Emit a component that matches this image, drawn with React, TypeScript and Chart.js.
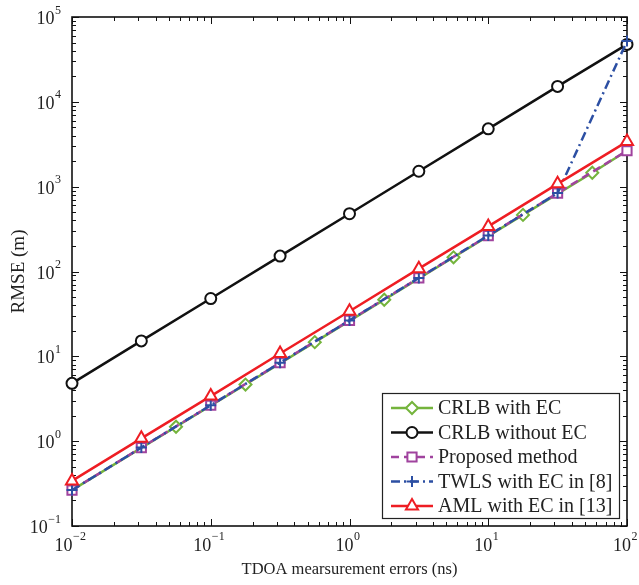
import React, { useEffect, useRef } from 'react';
import { Chart, registerables } from 'chart.js';

Chart.register(...registerables);

const FONT = '"Liberation Serif", "Times New Roman", "DejaVu Serif", serif';

// ---- data ----
const xMain = [0.01, 0.0316, 0.1, 0.316, 1, 3.16, 10, 31.6, 100];
const xCrlb = [0.01, 0.0562, 0.178, 0.562, 1.78, 5.62, 17.8, 56.2, 100];
const crlbWithEC = [0.265, 1.48, 4.65, 14.7, 46.5, 147, 465, 1460, 2650];
const crlbWithoutEC = [4.8, 15.2, 48, 152, 480, 1520, 4800, 15200, 47500];
const proposedMethod = [0.265, 0.84, 2.65, 8.4, 26.5, 84, 265, 840, 2650];
const twlsWithEC = [0.265, 0.84, 2.65, 8.4, 26.5, 84, 265, 840, 52000];
const amlWithEC = [0.34, 1.08, 3.4, 10.8, 34, 108, 340, 1080, 3400];
const crlbMarkerShown = [false, true, true, true, true, true, true, true, false];

const seriesLabels = [
  'CRLB with EC',
  'CRLB without EC',
  'Proposed method',
  'TWLS with EC in [8]',
  'AML with EC in [13]',
];
const xTickPowers = [-2, -1, 0, 1, 2];
const yTickPowers = [-1, 0, 1, 2, 3, 4, 5];
const xAxisTitle = 'TDOA mearsurement errors (ns)';
const yAxisTitle = 'RMSE (m)';

// ---- styles ----
type Style = { color: string; dash: number[]; marker: string; r: number; lw: number };
const styles: Style[] = [
  { color: '#74b43c', dash: [], marker: 'rectRot', r: 6, lw: 2.5 },
  { color: '#111111', dash: [], marker: 'circle', r: 5.5, lw: 2.5 },
  { color: '#a0439e', dash: [8, 5], marker: 'rect', r: 6.5, lw: 2.5 },
  { color: '#2c4fa3', dash: [9, 4, 2, 4], marker: 'cross', r: 5.5, lw: 2.5 },
  { color: '#ee1d23', dash: [], marker: 'triangle', r: 7, lw: 2.5 },
];

function supText(n: number) {
  return n < 0 ? '\u2212' + String(-n) : String(n);
}

function drawMarker(ctx: CanvasRenderingContext2D, s: Style, x: number, y: number) {
  const r = s.r;
  ctx.save();
  ctx.setLineDash([]);
  ctx.lineWidth = 2;
  ctx.strokeStyle = s.color;
  ctx.fillStyle = '#ffffff';
  ctx.beginPath();
  if (s.marker === 'circle') {
    ctx.arc(x, y, r, 0, Math.PI * 2);
  } else if (s.marker === 'rect') {
    const h = Math.SQRT1_2 * r;
    ctx.rect(x - h, y - h, 2 * h, 2 * h);
  } else if (s.marker === 'rectRot') {
    ctx.moveTo(x - r, y);
    ctx.lineTo(x, y - r);
    ctx.lineTo(x + r, y);
    ctx.lineTo(x, y + r);
    ctx.closePath();
  } else if (s.marker === 'triangle') {
    let a = 0;
    ctx.moveTo(x + Math.sin(a) * r, y - Math.cos(a) * r);
    a += (2 * Math.PI) / 3;
    ctx.lineTo(x + Math.sin(a) * r, y - Math.cos(a) * r);
    a += (2 * Math.PI) / 3;
    ctx.lineTo(x + Math.sin(a) * r, y - Math.cos(a) * r);
    ctx.closePath();
  }
  if (s.marker === 'cross') {
    ctx.moveTo(x - r, y);
    ctx.lineTo(x + r, y);
    ctx.moveTo(x, y - r);
    ctx.lineTo(x, y + r);
    ctx.stroke();
  } else {
    ctx.fill();
    ctx.stroke();
  }
  ctx.restore();
}

const axesPlugin = {
  id: 'matlabAxes',
  beforeDatasetsDraw(chart: any) {
    const { ctx, chartArea } = chart;
    const { left, right, top, bottom } = chartArea;
    const xs = chart.scales.x;
    const ys = chart.scales.y;
    ctx.save();
    ctx.strokeStyle = '#111';
    ctx.lineWidth = 1;
    // ticks
    ctx.beginPath();
    for (let d = xTickPowers[0]; d <= xTickPowers[xTickPowers.length - 1]; d++) {
      for (let k = 1; k <= 9; k++) {
        const v = k * Math.pow(10, d);
        if (v > Math.pow(10, xTickPowers[xTickPowers.length - 1]) * 1.0001) break;
        const px = Math.round(xs.getPixelForValue(v)) + 0.5;
        const len = k === 1 ? 7 : 4;
        ctx.moveTo(px, bottom);
        ctx.lineTo(px, bottom - len);
        ctx.moveTo(px, top);
        ctx.lineTo(px, top + len);
      }
    }
    for (let d = yTickPowers[0]; d <= yTickPowers[yTickPowers.length - 1]; d++) {
      for (let k = 1; k <= 9; k++) {
        const v = k * Math.pow(10, d);
        if (v > Math.pow(10, yTickPowers[yTickPowers.length - 1]) * 1.0001) break;
        const py = Math.round(ys.getPixelForValue(v)) + 0.5;
        const len = k === 1 ? 7 : 4;
        ctx.moveTo(left, py);
        ctx.lineTo(left + len, py);
        ctx.moveTo(right, py);
        ctx.lineTo(right - len, py);
      }
    }
    ctx.stroke();
    // frame
    ctx.lineWidth = 1.6;
    ctx.strokeRect(left, top, right - left, bottom - top);

    // tick labels
    ctx.fillStyle = '#222';
    ctx.textBaseline = 'alphabetic';
    ctx.textAlign = 'left';
    for (const p of xTickPowers) {
      const px = xs.getPixelForValue(Math.pow(10, p));
      ctx.font = `18px ${FONT}`;
      const w10 = ctx.measureText('10').width;
      ctx.font = `12px ${FONT}`;
      const e = supText(p);
      const we = ctx.measureText(e).width;
      const x0 = px - (w10 + we) / 2 - 2;
      ctx.font = `18px ${FONT}`;
      ctx.fillText('10', x0, bottom + 25);
      ctx.font = `12px ${FONT}`;
      ctx.fillText(e, x0 + w10 + 0.5, bottom + 14);
    }
    for (const p of yTickPowers) {
      const py = ys.getPixelForValue(Math.pow(10, p));
      ctx.font = `12px ${FONT}`;
      const e = supText(p);
      const we = ctx.measureText(e).width;
      ctx.font = `18px ${FONT}`;
      const w10 = ctx.measureText('10').width;
      const xr = left - 11;
      ctx.fillText('10', xr - we - w10 - 0.5, py + 7);
      ctx.font = `12px ${FONT}`;
      ctx.fillText(e, xr - we, py - 3.5);
    }
    ctx.restore();
  },
  afterDraw(chart: any) {
    const { ctx } = chart;
    // legend box
    const bx = 382, by = 393, bw = 237, bh = 125;
    ctx.save();
    ctx.fillStyle = '#ffffff';
    ctx.fillRect(bx, by, bw, bh);
    ctx.strokeStyle = '#222';
    ctx.lineWidth = 1.2;
    ctx.strokeRect(bx + 0.5, by + 0.5, bw, bh);
    const rowY0 = 408;
    const pitch = 24.5;
    seriesLabels.forEach((label, i) => {
      const s = styles[i];
      const y = rowY0 + i * pitch;
      ctx.save();
      ctx.strokeStyle = s.color;
      ctx.lineWidth = s.lw;
      ctx.setLineDash(s.dash);
      ctx.beginPath();
      ctx.moveTo(391, y);
      ctx.lineTo(433, y);
      ctx.stroke();
      ctx.restore();
      drawMarker(ctx, s, 412, y);
      ctx.fillStyle = '#222';
      ctx.font = `20px ${FONT}`;
      ctx.textBaseline = 'middle';
      ctx.textAlign = 'left';
      ctx.fillText(label, 438, y + 1);
    });
    ctx.restore();
  },
};

export default function App() {
  const ref = useRef<HTMLCanvasElement>(null);
  useEffect(() => {
    const canvas = ref.current!;
    const seriesY = [crlbWithEC, crlbWithoutEC, proposedMethod, twlsWithEC, amlWithEC];
    const datasets = seriesLabels.map((label, i) => {
      const s = styles[i];
      const xs = i === 0 ? xCrlb : xMain;
      const radius = i === 0 ? crlbMarkerShown.map((m) => (m ? s.r : 0)) : s.r;
      return {
        label,
        data: xs.map((x, j) => ({ x, y: seriesY[i][j] })),
        borderColor: s.color,
        borderWidth: s.lw,
        borderDash: s.dash,
        pointStyle: s.marker,
        pointRadius: radius,
        pointBorderWidth: 2,
        pointBorderColor: s.color,
        pointBackgroundColor: '#ffffff',
        fill: false,
        tension: 0,
        clip: false as any,
        order: seriesLabels.length - 1 - i,
      };
    });
    const chart = new Chart(canvas, {
      type: 'line',
      data: { datasets: datasets as any },
      options: {
        responsive: false,
        animation: false,
        events: [],
        layout: { padding: { top: 17, right: 12, left: 0, bottom: 0 } },
        plugins: { legend: { display: false }, tooltip: { enabled: false } },
        scales: {
          x: {
            type: 'logarithmic',
            min: 0.01,
            max: 100,
            grid: { display: false },
            border: { display: false },
            ticks: { display: false },
            title: {
              display: true,
              text: xAxisTitle,
              color: '#222',
              font: { family: FONT, size: 16.5 },
              padding: { top: 0, bottom: 5 },
            },
            afterFit: (sc: any) => {
              sc.height = 59;
            },
          },
          y: {
            type: 'logarithmic',
            min: 0.1,
            max: 100000,
            grid: { display: false },
            border: { display: false },
            ticks: { display: false },
            title: {
              display: true,
              text: yAxisTitle,
              color: '#222',
              font: { family: FONT, size: 19 },
              padding: { top: 8, bottom: 0 },
            },
            afterFit: (sc: any) => {
              sc.width = 72;
            },
          },
        },
      } as any,
      plugins: [axesPlugin],
    });
    return () => chart.destroy();
  }, []);
  return (
    <div style={{ position: 'absolute', left: 0, top: 0, width: 639, height: 585, background: '#fff' }}>
      <canvas ref={ref} width={639} height={585} style={{ display: 'block', width: 639, height: 585 }} />
    </div>
  );
}
